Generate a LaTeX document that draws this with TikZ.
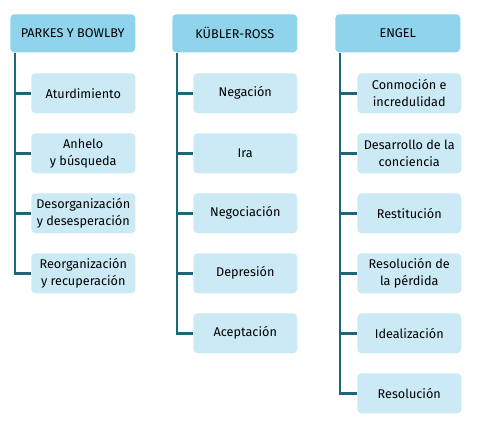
\documentclass[tikz,border=0pt]{standalone}
\usepackage{fontspec}
\setmainfont{Fira Sans}
\usetikzlibrary{calc}
\definecolor{headblue}{HTML}{8FD4EC}
\definecolor{stageblue}{HTML}{CBEAF6}
\definecolor{trunkteal}{HTML}{1F6677}
\tikzset{
  head/.style={fill=headblue, rounded corners=3pt, anchor=north west, minimum width=93.75pt, minimum height=28.5pt, inner sep=1pt, font=\fontsize{9.5}{13}\selectfont},
  stage/.style={fill=stageblue, rounded corners=3pt, anchor=north west, minimum width=78pt, minimum height=30pt, inner sep=1pt, align=center, font=\fontsize{9.5}{13}\selectfont},
  trunk/.style={draw=trunkteal, line width=2.2pt}
}
\begin{document}
\begin{tikzpicture}[x=0.75pt, y=-0.75pt]
		%%%%% START %%%%%
		\useasboundingbox (0, 0) rectangle (478, 429);
		
		% Parkes y Bowlby
		\node[head] (ph) at (10, 14) {PARKES Y BOWLBY};
		\node[stage] (p1) at (31, 73) {Aturdimiento};
		\node[stage] (p2) at (31, 133) {Anhelo\\ y búsqueda};
		\node[stage] (p3) at (31, 193) {Desorganización\\ y desesperación};
		\node[stage] (p4) at (31, 253) {Reorganización\\ y recuperación};
		
		\coordinate (pt) at ($(ph.south west)+(5, 0)$);
		\draw[trunk] (pt) |- (p4.west);
		\draw[trunk] (p1.west -| pt) -- (p1.west);
		\draw[trunk] (p2.west -| pt) -- (p2.west);
		\draw[trunk] (p3.west -| pt) -- (p3.west);
		
		% Kubler-Ross
		\node[head] (kh) at (172, 14) {KÜBLER-ROSS};
		\node[stage] (k1) at (193, 73) {Negación};
		\node[stage] (k2) at (193, 133) {Ira};
		\node[stage] (k3) at (193, 193) {Negociación};
		\node[stage] (k4) at (193, 253) {Depresión};
		\node[stage] (k5) at (193, 313) {Aceptación};
		
		\coordinate (kt) at ($(kh.south west)+(5, 0)$);
		\draw[trunk] (kt) |- (k5.west);
		\draw[trunk] (k1.west -| kt) -- (k1.west);
		\draw[trunk] (k2.west -| kt) -- (k2.west);
		\draw[trunk] (k3.west -| kt) -- (k3.west);
		\draw[trunk] (k4.west -| kt) -- (k4.west);
		
		% Engel
		\node[head] (eh) at (335, 14) {ENGEL};
		\node[stage] (e1) at (357, 73) {Conmoción e\\ incredulidad};
		\node[stage] (e2) at (357, 133) {Desarrollo de la\\ conciencia};
		\node[stage] (e3) at (357, 193) {Restitución};
		\node[stage] (e4) at (357, 253) {Resolución de\\ la pérdida};
		\node[stage] (e5) at (357, 313) {Idealización};
		\node[stage] (e6) at (357, 373) {Resolución};
		
		\coordinate (et) at ($(eh.south west)+(5, 0)$);
		\draw[trunk] (et) |- (e6.west);
		\draw[trunk] (e1.west -| et) -- (e1.west);
		\draw[trunk] (e2.west -| et) -- (e2.west);
		\draw[trunk] (e3.west -| et) -- (e3.west);
		\draw[trunk] (e4.west -| et) -- (e4.west);
		\draw[trunk] (e5.west -| et) -- (e5.west);
		
		%%%%% END %%%%%
	\end{tikzpicture}
\end{document}
